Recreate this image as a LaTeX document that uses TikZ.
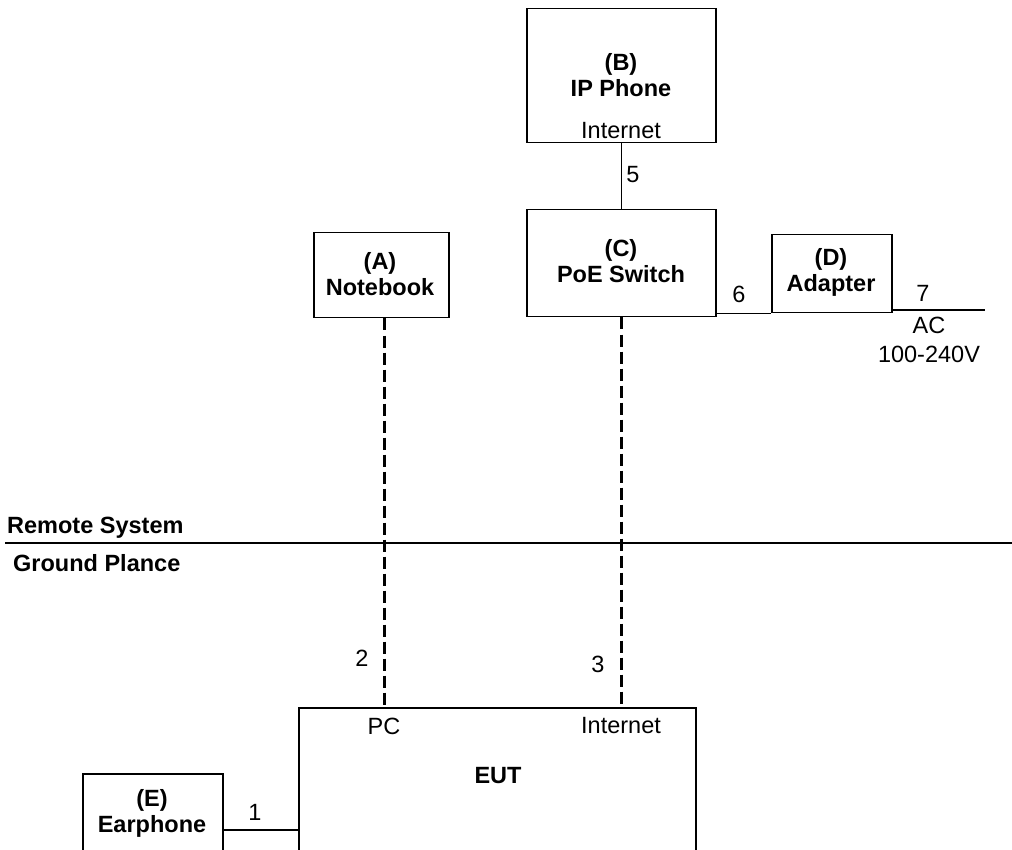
\documentclass[tikz,border=0pt]{standalone}
\usepackage{fontspec}
\setmainfont{Liberation Sans}
\begin{document}
\begin{tikzpicture}[x=1pt,y=-1pt,
  box/.style={draw,line width=1.5pt,anchor=north west,inner sep=0pt},
  lbl/.style={font=\fontsize{23.5}{26}\selectfont,inner sep=0pt,align=center},
  blbl/.style={lbl,font=\fontsize{23.5}{26}\selectfont\bfseries},
  wire/.style={line width=1.3pt},
  dwire/.style={line width=3.5pt,dash pattern=on 12pt off 5pt}]
\useasboundingbox (0,0) rectangle (1012,850);
\clip (0,0) rectangle (1012,850);
% boxes
\node[box,minimum width=189,minimum height=134] (B) at (526,8) {};
\node[box,minimum width=189,minimum height=107] (C) at (526,209) {};
\node[box,minimum width=135,minimum height=85] (A) at (313,232) {};
\node[box,minimum width=120,minimum height=78] (D) at (771,234) {};
\node[box,minimum width=397,minimum height=180] (EUT) at (298,707) {};
\node[box,minimum width=140,minimum height=120] (E) at (82,773) {};
% box texts
\node[blbl] (Bt) at (621,75) {(B)\\IP Phone};
\node[lbl] (Bi) at (621,131) {Internet};
\node[blbl] (Ct) at (621,261) {(C)\\PoE Switch};
\node[blbl] (At) at (380,274) {(A)\\Notebook};
\node[blbl] (Dt) at (831,272) {(D)\\Adapter};
\node[blbl] (Et) at (152,813) {(E)\\Earphone};
\node[lbl] (pc) at (384,726) {PC};
\node[lbl] (ei) at (621,726) {Internet};
\node[blbl] (eut) at (498,776) {EUT};
% connectors
\draw[wire] (B.south) -- (C.north);
\draw[wire] (D.south west) -- (D.south west -| C.east);
\coordinate (acend) at (985,310);
\draw[wire] (D.south east |- acend) -- (acend);
\coordinate (p1) at (222,830);
\draw[wire] (p1) -- (p1 -| EUT.west);
\draw[dwire] ([xshift=3pt]A.south) -- ([xshift=3pt]A.south |- EUT.north);
\draw[dwire] (C.south) -- (C.south |- EUT.north);
% plane line
\coordinate (gl) at (5,543);
\coordinate (gr) at (1012,543);
\draw[wire] (gl) -- (gr);
\node[blbl,anchor=west] (rs) at (7,528) {Remote System};
\node[blbl,anchor=west] (gp) at (13,563) {Ground Plance};
% cable labels
\node[lbl] (n5) at (633,175) {5};
\node[lbl] (n6) at (739,294) {6};
\node[lbl] (n7) at (923,293) {7};
\node[lbl] (ac) at (929,325) {AC};
\node[lbl] (v) at (929,354) {100-240V};
\node[lbl] (n2) at (362,658) {2};
\node[lbl] (n3) at (598,664) {3};
\node[lbl] (n1) at (255,812) {1};
\end{tikzpicture}
\end{document}
